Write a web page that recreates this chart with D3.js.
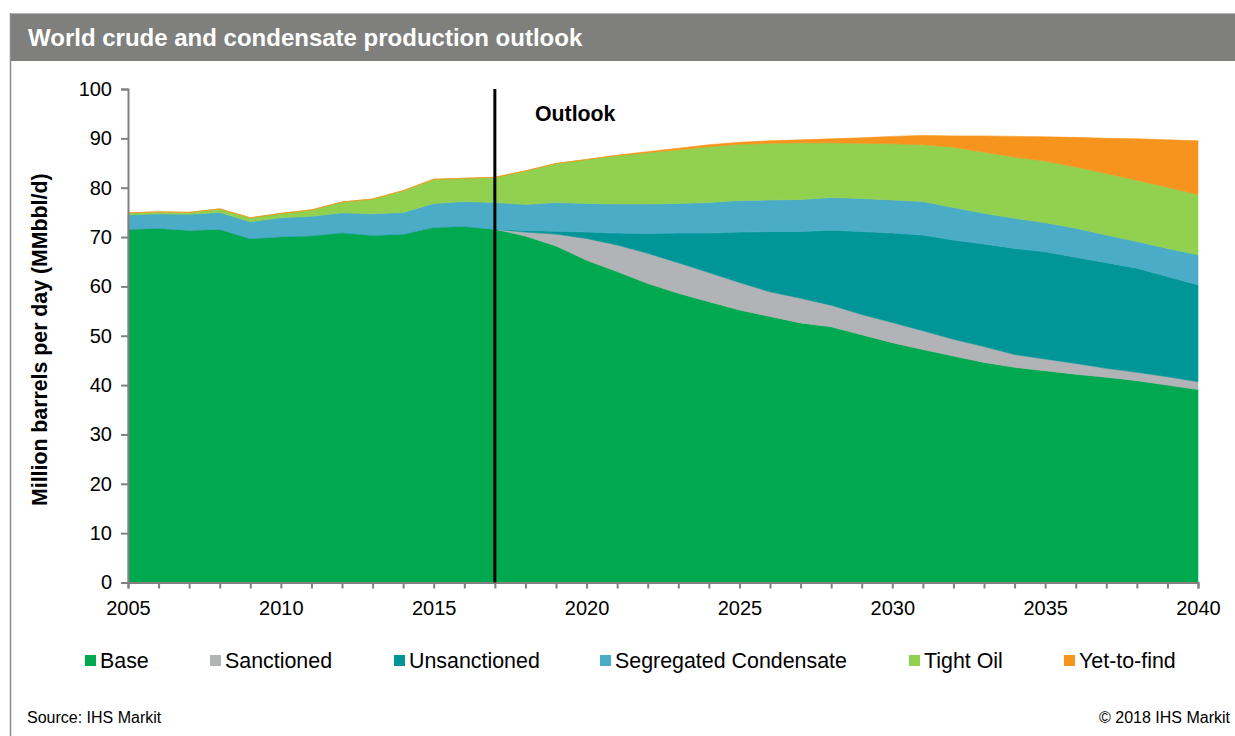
<!DOCTYPE html>
<html>
<head>
<meta charset="utf-8">
<script src="https://cdn.jsdelivr.net/npm/d3@7"></script>
<style>
  html, body { margin: 0; padding: 0; background: #fff; }
  svg { display: block; font-family: "Liberation Sans", Arial, Helvetica, sans-serif; }
</style>
</head>
<body>
<svg id="chart" width="1235" height="736"></svg>
<script>
// Years on the x axis
const years = d3.range(2005, 2041);

// Production by category, million barrels per day (MMbbl/d)
const base = [71.6, 71.8, 71.4, 71.6, 69.7, 70.1, 70.3, 70.9, 70.4, 70.6, 72.0, 72.2, 71.6,
  70.2, 68.2, 65.3, 63.0, 60.6, 58.6, 56.9, 55.2, 53.9, 52.6, 51.8, 50.2, 48.6, 47.2, 45.9,
  44.6, 43.6, 42.9, 42.2, 41.6, 40.9, 40.0, 39.1];
const sanctioned = [0, 0, 0, 0, 0, 0, 0, 0, 0, 0, 0, 0, 0,
  0.8, 2.4, 4.4, 5.4, 6.1, 6.2, 5.9, 5.6, 5.0, 5.0, 4.4, 4.1, 4.1, 3.8, 3.4,
  3.2, 2.6, 2.4, 2.2, 1.8, 1.7, 1.7, 1.6];
const unsanctioned = [0, 0, 0, 0, 0, 0, 0, 0, 0, 0, 0, 0, 0,
  0.3, 0.6, 1.3, 2.4, 4.0, 6.0, 8.0, 10.2, 12.2, 13.5, 15.2, 16.8, 18.1, 19.4, 20.1,
  20.8, 21.5, 21.7, 21.5, 21.4, 21.1, 20.3, 19.6];
const segregatedCondensate = [2.9, 2.9, 3.2, 3.4, 3.4, 3.8, 3.9, 4.0, 4.3, 4.4, 4.8, 5.0, 5.4,
  5.3, 5.8, 5.8, 5.9, 6.0, 6.0, 6.2, 6.4, 6.4, 6.5, 6.6, 6.7, 6.7, 6.8, 6.6,
  6.2, 6.1, 5.9, 5.9, 5.6, 5.4, 5.7, 6.1];
const tightOil = [0.4, 0.4, 0.4, 0.7, 0.8, 0.9, 1.3, 2.2, 3.0, 4.4, 4.9, 4.7, 5.1,
  6.8, 7.9, 8.9, 9.8, 10.4, 10.9, 11.3, 11.4, 11.5, 11.5, 11.1, 11.2, 11.4, 11.5, 12.2,
  12.4, 12.4, 12.5, 12.4, 12.5, 12.4, 12.4, 12.2];
const yetToFind = [0, 0, 0, 0, 0, 0, 0, 0, 0, 0, 0, 0, 0,
  0, 0, 0, 0.1, 0.2, 0.3, 0.4, 0.4, 0.5, 0.6, 0.8, 1.1, 1.5, 1.9, 2.3,
  3.3, 4.2, 4.9, 6.0, 7.1, 8.4, 9.6, 10.9];

const seriesNames = ["Base", "Sanctioned", "Unsanctioned", "Segregated Condensate", "Tight Oil", "Yet-to-find"];
const seriesValues = [base, sanctioned, unsanctioned, segregatedCondensate, tightOil, yetToFind];
const seriesColors = ["#00a84f", "#b1b3b6", "#009597", "#4aacc6", "#92d050", "#f7941d"];

const yTicks = [0, 10, 20, 30, 40, 50, 60, 70, 80, 90, 100];
const xLabelYears = [2005, 2010, 2015, 2020, 2025, 2030, 2035, 2040];
const outlookYear = 2017;

const svg = d3.select("#chart");
const W = 1235, H = 736;

// Panel frame and header band
svg.append("rect").attr("x", 10).attr("y", 13).attr("width", W - 10).attr("height", 48)
  .attr("fill", "#7f807e");
svg.append("line").attr("x1", 10).attr("x2", W).attr("y1", 13.5).attr("y2", 13.5)
  .attr("stroke", "#b5b5b5").attr("stroke-width", 1);
svg.append("line").attr("x1", 10.5).attr("x2", 10.5).attr("y1", 13).attr("y2", H)
  .attr("stroke", "#8c8c8c").attr("stroke-width", 1.5);
svg.append("text").attr("x", 28).attr("y", 46)
  .attr("fill", "#fff").attr("font-weight", "bold").attr("font-size", 24)
  .text("World crude and condensate production outlook");

// Plot scales
const x = d3.scaleLinear().domain([2005, 2040]).range([128, 1198]);
const y = d3.scaleLinear().domain([0, 100]).range([582.5, 89]);

// Stacked table
const table = years.map((yr, i) => {
  const row = { year: yr };
  seriesNames.forEach((n, k) => row[n] = seriesValues[k][i]);
  return row;
});
const stacked = d3.stack().keys(seriesNames)(table);

const area = d3.area()
  .x(d => x(d.data.year))
  .y0(d => y(d[0]))
  .y1(d => y(d[1]));

svg.append("g").selectAll("path").data(stacked).join("path")
  .attr("d", area)
  .attr("fill", (d, i) => seriesColors[i])
  .attr("stroke", (d, i) => seriesColors[i])
  .attr("stroke-width", 0.6);

// Y axis
const yAxis = d3.axisLeft(y).tickValues(yTicks).tickSize(7).tickPadding(9);
const gy = svg.append("g").attr("transform", "translate(128,0)").call(yAxis);
gy.select(".domain").attr("stroke", "#808080").attr("stroke-width", 2);
gy.selectAll(".tick line").attr("stroke", "#808080").attr("stroke-width", 2);
gy.selectAll(".tick text").attr("font-size", 20).attr("fill", "#000")
  .attr("font-family", "Liberation Sans, Arial, sans-serif");

// X axis: a tick every year, labels every five years
const xAxis = d3.axisBottom(x).tickValues(years).tickSize(6).tickPadding(12)
  .tickFormat(d => xLabelYears.includes(d) ? String(d) : "");
const gx = svg.append("g").attr("transform", `translate(0,${y(0)})`).call(xAxis);
gx.select(".domain").attr("stroke", "#808080").attr("stroke-width", 2);
gx.selectAll(".tick line").attr("stroke", "#808080").attr("stroke-width", 2);
gx.selectAll(".tick text").attr("font-size", 20).attr("fill", "#000")
  .attr("font-family", "Liberation Sans, Arial, sans-serif");

// Y axis title
svg.append("text")
  .attr("transform", `translate(47,${(y(0) + y(100)) / 2 + 4}) rotate(-90)`)
  .attr("text-anchor", "middle").attr("font-weight", "bold").attr("font-size", 21.3)
  .text("Million barrels per day (MMbbl/d)");

// Outlook divider
svg.append("line")
  .attr("x1", x(outlookYear)).attr("x2", x(outlookYear))
  .attr("y1", y(100)).attr("y2", y(0))
  .attr("stroke", "#000").attr("stroke-width", 3);
svg.append("text").attr("x", 535).attr("y", 121)
  .attr("font-weight", "bold").attr("font-size", 21.3).text("Outlook");

// Legend
const legendX = [85, 210, 394, 600, 909, 1064];
const lg = svg.append("g").selectAll("g").data(seriesNames).join("g")
  .attr("transform", (d, i) => `translate(${legendX[i]},655)`);
lg.append("rect").attr("width", 11).attr("height", 11)
  .attr("fill", (d, i) => seriesColors[i]);
lg.append("text").attr("x", 15).attr("y", 13).attr("font-size", 21.4).text(d => d);

// Footer
svg.append("text").attr("x", 27).attr("y", 723).attr("font-size", 16).text("Source: IHS Markit");
svg.append("text").attr("x", 1230).attr("y", 723).attr("font-size", 16)
  .attr("text-anchor", "end").text("© 2018 IHS Markit");
</script>
</body>
</html>
